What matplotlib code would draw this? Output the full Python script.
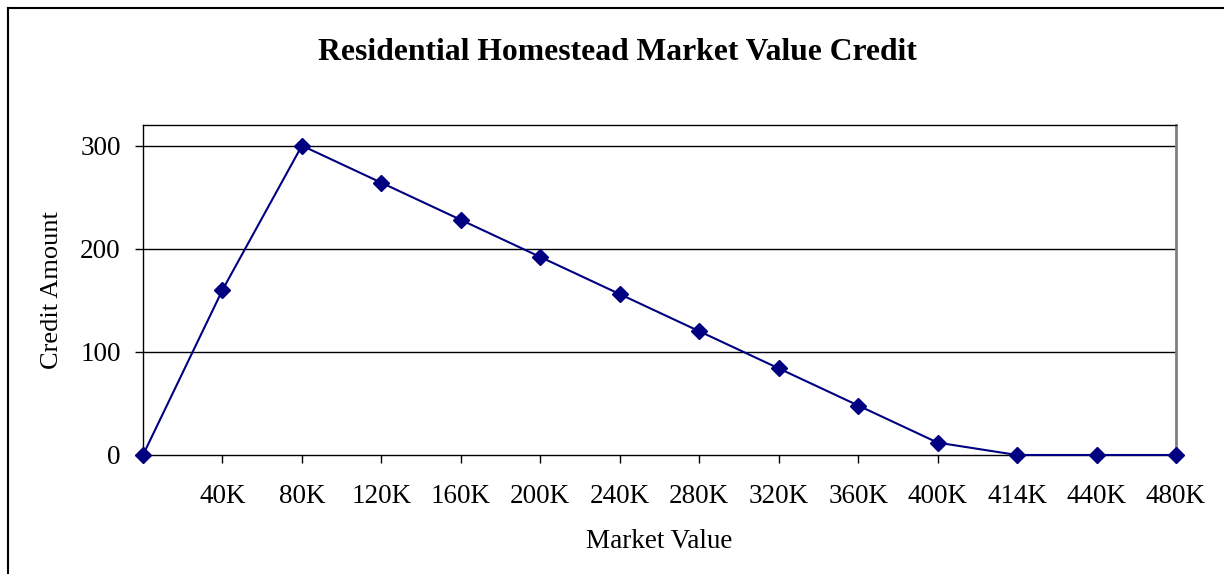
import matplotlib
matplotlib.use("Agg")
import matplotlib.pyplot as plt
from matplotlib.lines import Line2D

# chart data
labels = ["", "40K", "80K", "120K", "160K", "200K", "240K", "280K",
          "320K", "360K", "400K", "414K", "440K", "480K"]
credit = [0, 160, 300, 264, 228, 192, 156, 120, 84, 48, 12, 0, 0, 0]
yticks = [0, 100, 200, 300]

plt.rcParams['font.family'] = ['Liberation Serif', 'DejaVu Serif']

W, H = 1224, 574
fig = plt.figure(figsize=(W / 100, H / 100), dpi=100)
ax = fig.add_axes([143 / W, 1 - 455 / H, (1176 - 143) / W, (455 - 125) / H])

x = list(range(len(labels)))
ax.plot(x, credit, color="#000080", lw=1.5, marker="D", ms=8.5,
        markerfacecolor="#000080", markeredgecolor="#000080", clip_on=False, zorder=3)

ax.set_xlim(0, len(labels) - 1)
ax.set_ylim(0, 320)
ax.set_xticks(x)
ax.set_xticklabels(labels)
ax.set_yticks(yticks)
for yv in yticks[1:]:
    ax.axhline(yv, color="black", lw=1, zorder=1)

ax.tick_params(axis="x", direction="out", length=6, width=1, pad=15, labelsize=19.5)
ax.tick_params(axis="y", direction="out", length=6, width=1, pad=10, labelsize=19.5)

for s in ["left", "top", "bottom"]:
    ax.spines[s].set_color("black")
    ax.spines[s].set_linewidth(1)
ax.spines["right"].set_color("#808080")
ax.spines["right"].set_linewidth(2)

ax.set_xlabel("Market Value", fontsize=19.5, labelpad=14)
ax.set_ylabel("Credit Amount", fontsize=19, labelpad=12)

fig.text(617 / W, 1 - 52 / H, "Residential Homestead Market Value Credit",
         ha="center", va="center", fontsize=22.8, fontweight="bold")

# outer chart border (top and left visible)
fig.add_artist(Line2D([8 / W, 1], [1 - 8 / H, 1 - 8 / H], color="black", lw=1.5))
fig.add_artist(Line2D([8 / W, 8 / W], [1 - 8 / H, 1 / H], color="black", lw=1.5))

fig.savefig("out.png", dpi=100)
